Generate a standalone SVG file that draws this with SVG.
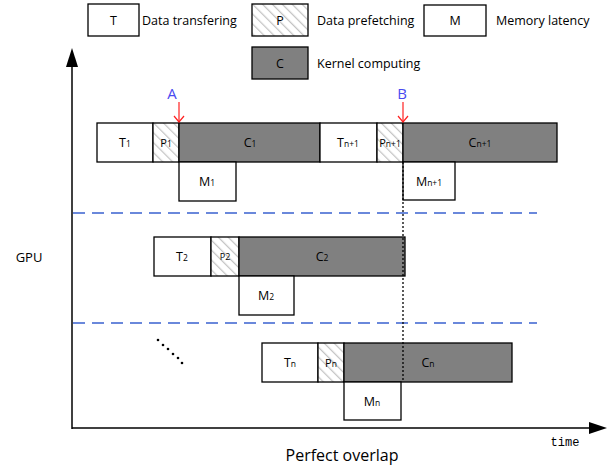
<svg xmlns="http://www.w3.org/2000/svg" width="612" height="468" viewBox="0 0 612 468">
<style>
.b{stroke:#000;stroke-width:1.3;fill:#fff}
.c{stroke:#000;stroke-width:1.3;fill:#808080}
.p{stroke:#000;stroke-width:1.3;fill:url(#hatch)}
.t{font-family:"Open Sans","Liberation Sans",sans-serif;font-size:12.5px;fill:#000;text-anchor:middle}
.ps{font-size:11px}
.l{font-family:"Open Sans","Liberation Sans",sans-serif;font-size:12.5px;fill:#000}
.s{font-size:8.5px}
.dash{stroke:#3a62d0;stroke-width:1.5;stroke-dasharray:12 7;fill:none}
.ax{stroke:#000;stroke-width:1.5;fill:none}
.red{stroke:#ff2020;stroke-width:1.2;fill:none}
.ab{font-family:"Open Sans","Liberation Sans",sans-serif;font-size:15px;fill:#4a4af0;text-anchor:middle}
</style>
<defs>
<pattern id="hatch" patternUnits="userSpaceOnUse" width="7" height="7" patternTransform="rotate(-45)">
<rect width="7" height="7" fill="#fff"/>
<line x1="0" y1="0" x2="0" y2="7" stroke="#c4c4c4" stroke-width="2.5"/>
</pattern>
</defs>

<g id="legend">
<g id="leg-T"><rect class="b" x="88" y="4" width="51" height="32"/><text class="t" x="113.5" y="25">T</text><text class="l" x="142" y="25">Data transfering</text></g>
<g id="leg-P"><rect class="p" x="252" y="4" width="56" height="32"/><text class="t" x="280" y="25">P</text><text class="l" x="317" y="25">Data prefetching</text></g>
<g id="leg-M"><rect class="b" x="424" y="5" width="62" height="31"/><text class="t" x="455" y="25">M</text><text class="l" x="496" y="25">Memory latency</text></g>
<g id="leg-C"><rect class="c" x="252" y="47" width="56" height="32"/><text class="t" x="280" y="68">C</text><text class="l" x="317" y="68">Kernel computing</text></g>
</g>

<g id="axes">
<line class="ax" x1="72" y1="429" x2="72" y2="66"/>
<path d="M66,67 L72,48 L78,67 Z" fill="#000"/>
<line class="ax" x1="72" y1="428" x2="590" y2="428"/>
<path d="M589,422 L607,428 L589,434 Z" fill="#000"/>
<text x="565" y="446" font-family="'Liberation Mono',monospace" font-size="12" text-anchor="middle">time</text>
<text x="342" y="461" font-family="'Open Sans','Liberation Sans',sans-serif" font-size="16" text-anchor="middle">Perfect overlap</text>
<text x="29" y="262" font-family="'Open Sans','Liberation Sans',sans-serif" font-size="13" text-anchor="middle">GPU</text>
</g>

<g id="separators">
<line class="dash" x1="73" y1="213" x2="537" y2="213"/>
<line class="dash" x1="73" y1="323" x2="537" y2="323"/>
</g>

<g id="row1">
<g id="T1"><rect class="b" x="97" y="123" width="56" height="39"/><text class="t" x="125" y="147">T<tspan class="s">1</tspan></text></g>
<g id="P1"><rect class="p" x="153" y="123" width="26" height="39"/><text class="t ps" x="166" y="147">P<tspan class="s">1</tspan></text></g>
<g id="C1"><rect class="c" x="179" y="123" width="141" height="39"/><text class="t" x="250" y="147">C<tspan class="s">1</tspan></text></g>
<g id="M1"><rect class="b" x="179" y="162" width="57" height="39"/><text class="t" x="207" y="186">M<tspan class="s">1</tspan></text></g>
<g id="Tn1"><rect class="b" x="320" y="123" width="57" height="39"/><text class="t" x="348" y="147">T<tspan class="s">n+1</tspan></text></g>
<g id="Pn1"><rect class="p" x="377" y="123" width="26" height="39"/><text class="t ps" x="390" y="147">P<tspan class="s">n+1</tspan></text></g>
<g id="Cn1"><rect class="c" x="403" y="123" width="154" height="39"/><text class="t" x="480" y="147">C<tspan class="s">n+1</tspan></text></g>
<g id="Mn1"><rect class="b" x="403" y="162" width="52" height="38"/><text class="t" x="429" y="186">M<tspan class="s">n+1</tspan></text></g>
</g>

<g id="row2">
<g id="T2"><rect class="b" x="154" y="237" width="57" height="39"/><text class="t" x="182" y="261">T<tspan class="s">2</tspan></text></g>
<g id="P2"><rect class="p" x="211" y="237" width="28" height="39"/><text class="t" x="225" y="260" style="font-size:9px">P2</text></g>
<g id="C2"><rect class="c" x="239" y="237" width="166" height="39"/><text class="t" x="322" y="261">C<tspan class="s">2</tspan></text></g>
<g id="M2"><rect class="b" x="239" y="276" width="55" height="39"/><text class="t" x="266" y="300">M<tspan class="s">2</tspan></text></g>
</g>

<g id="row3">
<g id="Tn"><rect class="b" x="262" y="343" width="56" height="39"/><text class="t" x="290" y="367">T<tspan class="s">n</tspan></text></g>
<g id="Pn"><rect class="p" x="318" y="343" width="26" height="39"/><text class="t ps" x="331" y="367">P<tspan class="s">n</tspan></text></g>
<g id="Cn"><rect class="c" x="344" y="343" width="168" height="39"/><text class="t" x="428" y="367">C<tspan class="s">n</tspan></text></g>
<g id="Mn"><rect class="b" x="344" y="382" width="57" height="38"/><text class="t" x="372" y="406">M<tspan class="s">n</tspan></text></g>
</g>

<g id="ellipsis" fill="#000">
<circle cx="158" cy="340" r="1.3"/><circle cx="163" cy="345" r="1.3"/><circle cx="168" cy="349" r="1.3"/><circle cx="173" cy="354" r="1.3"/><circle cx="178" cy="358" r="1.3"/><circle cx="182" cy="363" r="1.3"/>
</g>

<g id="connectors">
<line x1="403" y1="162" x2="403" y2="382" stroke="#000" stroke-width="1.3" stroke-dasharray="2 2"/>
<line class="red" x1="179" y1="102" x2="179" y2="122"/>
<path class="red" d="M174,116 L179,122 L184,116"/>
<line class="red" x1="403" y1="102" x2="403" y2="122"/>
<path class="red" d="M398,116 L403,122 L408,116"/>
</g>
<g id="labels">
<text class="ab" x="172" y="99">A</text>
<text class="ab" x="402" y="99">B</text>
</g>
</svg>
